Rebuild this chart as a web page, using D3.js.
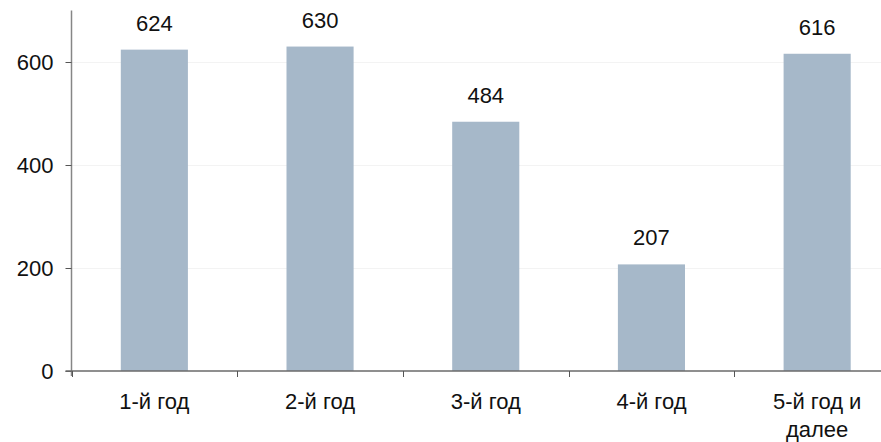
<!DOCTYPE html>
<html><head><meta charset="utf-8">
<script src="https://cdn.jsdelivr.net/npm/d3@7"></script>
<style>
html,body{margin:0;padding:0;background:#fff;}
svg{display:block;font-family:"Liberation Sans",Arial,sans-serif;}
</style></head>
<body>
<svg id="chart" width="881" height="442"></svg>
<script>
const categories = [["1-й год"], ["2-й год"], ["3-й год"], ["4-й год"], ["5-й год и", "далее"]];
const values = [624, 630, 484, 207, 616];
const yTicks = [0, 200, 400, 600];

(function () {
const svg = d3.select("#chart");
const W = 881, H = 442;
const FS = 22;
const mLeft = 71.5, mRight = 900, mTop = 10.5, mBottom = 371;
const pad = 0.595;
const keys = categories.map((c, i) => i);

const x = d3.scaleBand().domain(keys).range([mLeft, mRight]).paddingInner(pad).paddingOuter(pad / 2);
const y = d3.scaleLinear().domain([0, 700]).range([mBottom, mTop]);

// faint gridlines
svg.append("g").selectAll("line").data(yTicks.filter(d => d > 0)).join("line")
  .attr("x1", mLeft).attr("x2", W)
  .attr("y1", d => Math.round(y(d)) + 0.5).attr("y2", d => Math.round(y(d)) + 0.5)
  .attr("stroke", "#f3f3f3").attr("stroke-width", 1);

// bars
svg.append("g").selectAll("rect").data(values).join("rect")
  .attr("x", (d, i) => x(i)).attr("width", x.bandwidth())
  .attr("y", d => y(d)).attr("height", d => y(0) - y(d))
  .attr("fill", "#a6b8c9");

// value labels
svg.append("g").selectAll("text").data(values).join("text")
  .attr("x", (d, i) => x(i) + x.bandwidth() / 2)
  .attr("y", d => y(d) - 19)
  .attr("text-anchor", "middle")
  .attr("font-size", FS).attr("fill", "#111")
  .text(d => d);

// y axis
const yAxis = d3.axisLeft(y).tickValues(yTicks).tickSize(6).tickSizeOuter(0).tickPadding(12);
const gy = svg.append("g").attr("transform", `translate(${mLeft},0)`).call(yAxis);
gy.select(".domain").attr("stroke", "#868686").attr("stroke-width", 1.5).attr("d", `M0,${mTop}V${mBottom + 5}`);
gy.selectAll(".tick line").attr("stroke", "#555");
gy.selectAll(".tick text").attr("font-size", FS).attr("fill", "#111").attr("font-family", "Liberation Sans, Arial, sans-serif");

// x axis
const xAxis = d3.axisBottom(x).tickSize(0).tickSizeOuter(0).tickFormat(() => "");
const gx = svg.append("g").attr("transform", `translate(0,${mBottom})`).call(xAxis);
gx.select(".domain").attr("stroke", "#6a6a6a").attr("stroke-width", 1.5).attr("d", `M${mLeft - 6},0H${W}`);

// boundary ticks
const step = x.step();
const bounds = keys.map(i => x(i) - step * pad / 2).concat([x(keys.length - 1) + x.bandwidth() + step * pad / 2]);
gx.append("g").selectAll("line").data(bounds).join("line")
  .attr("x1", d => Math.round(d) + 0.5).attr("x2", d => Math.round(d) + 0.5)
  .attr("y1", 0).attr("y2", 6).attr("stroke", "#555");

// category labels
const labels = svg.append("g").selectAll("text").data(categories).join("text")
  .attr("text-anchor", "middle").attr("font-size", FS).attr("fill", "#111")
  .attr("transform", (d, i) => `translate(${x(i) + x.bandwidth() / 2},${mBottom + 38})`);
labels.selectAll("tspan").data(d => d).join("tspan")
  .attr("x", 0).attr("dy", (d, j) => j === 0 ? 0 : 28).text(d => d);
})();
</script>
</body></html>
